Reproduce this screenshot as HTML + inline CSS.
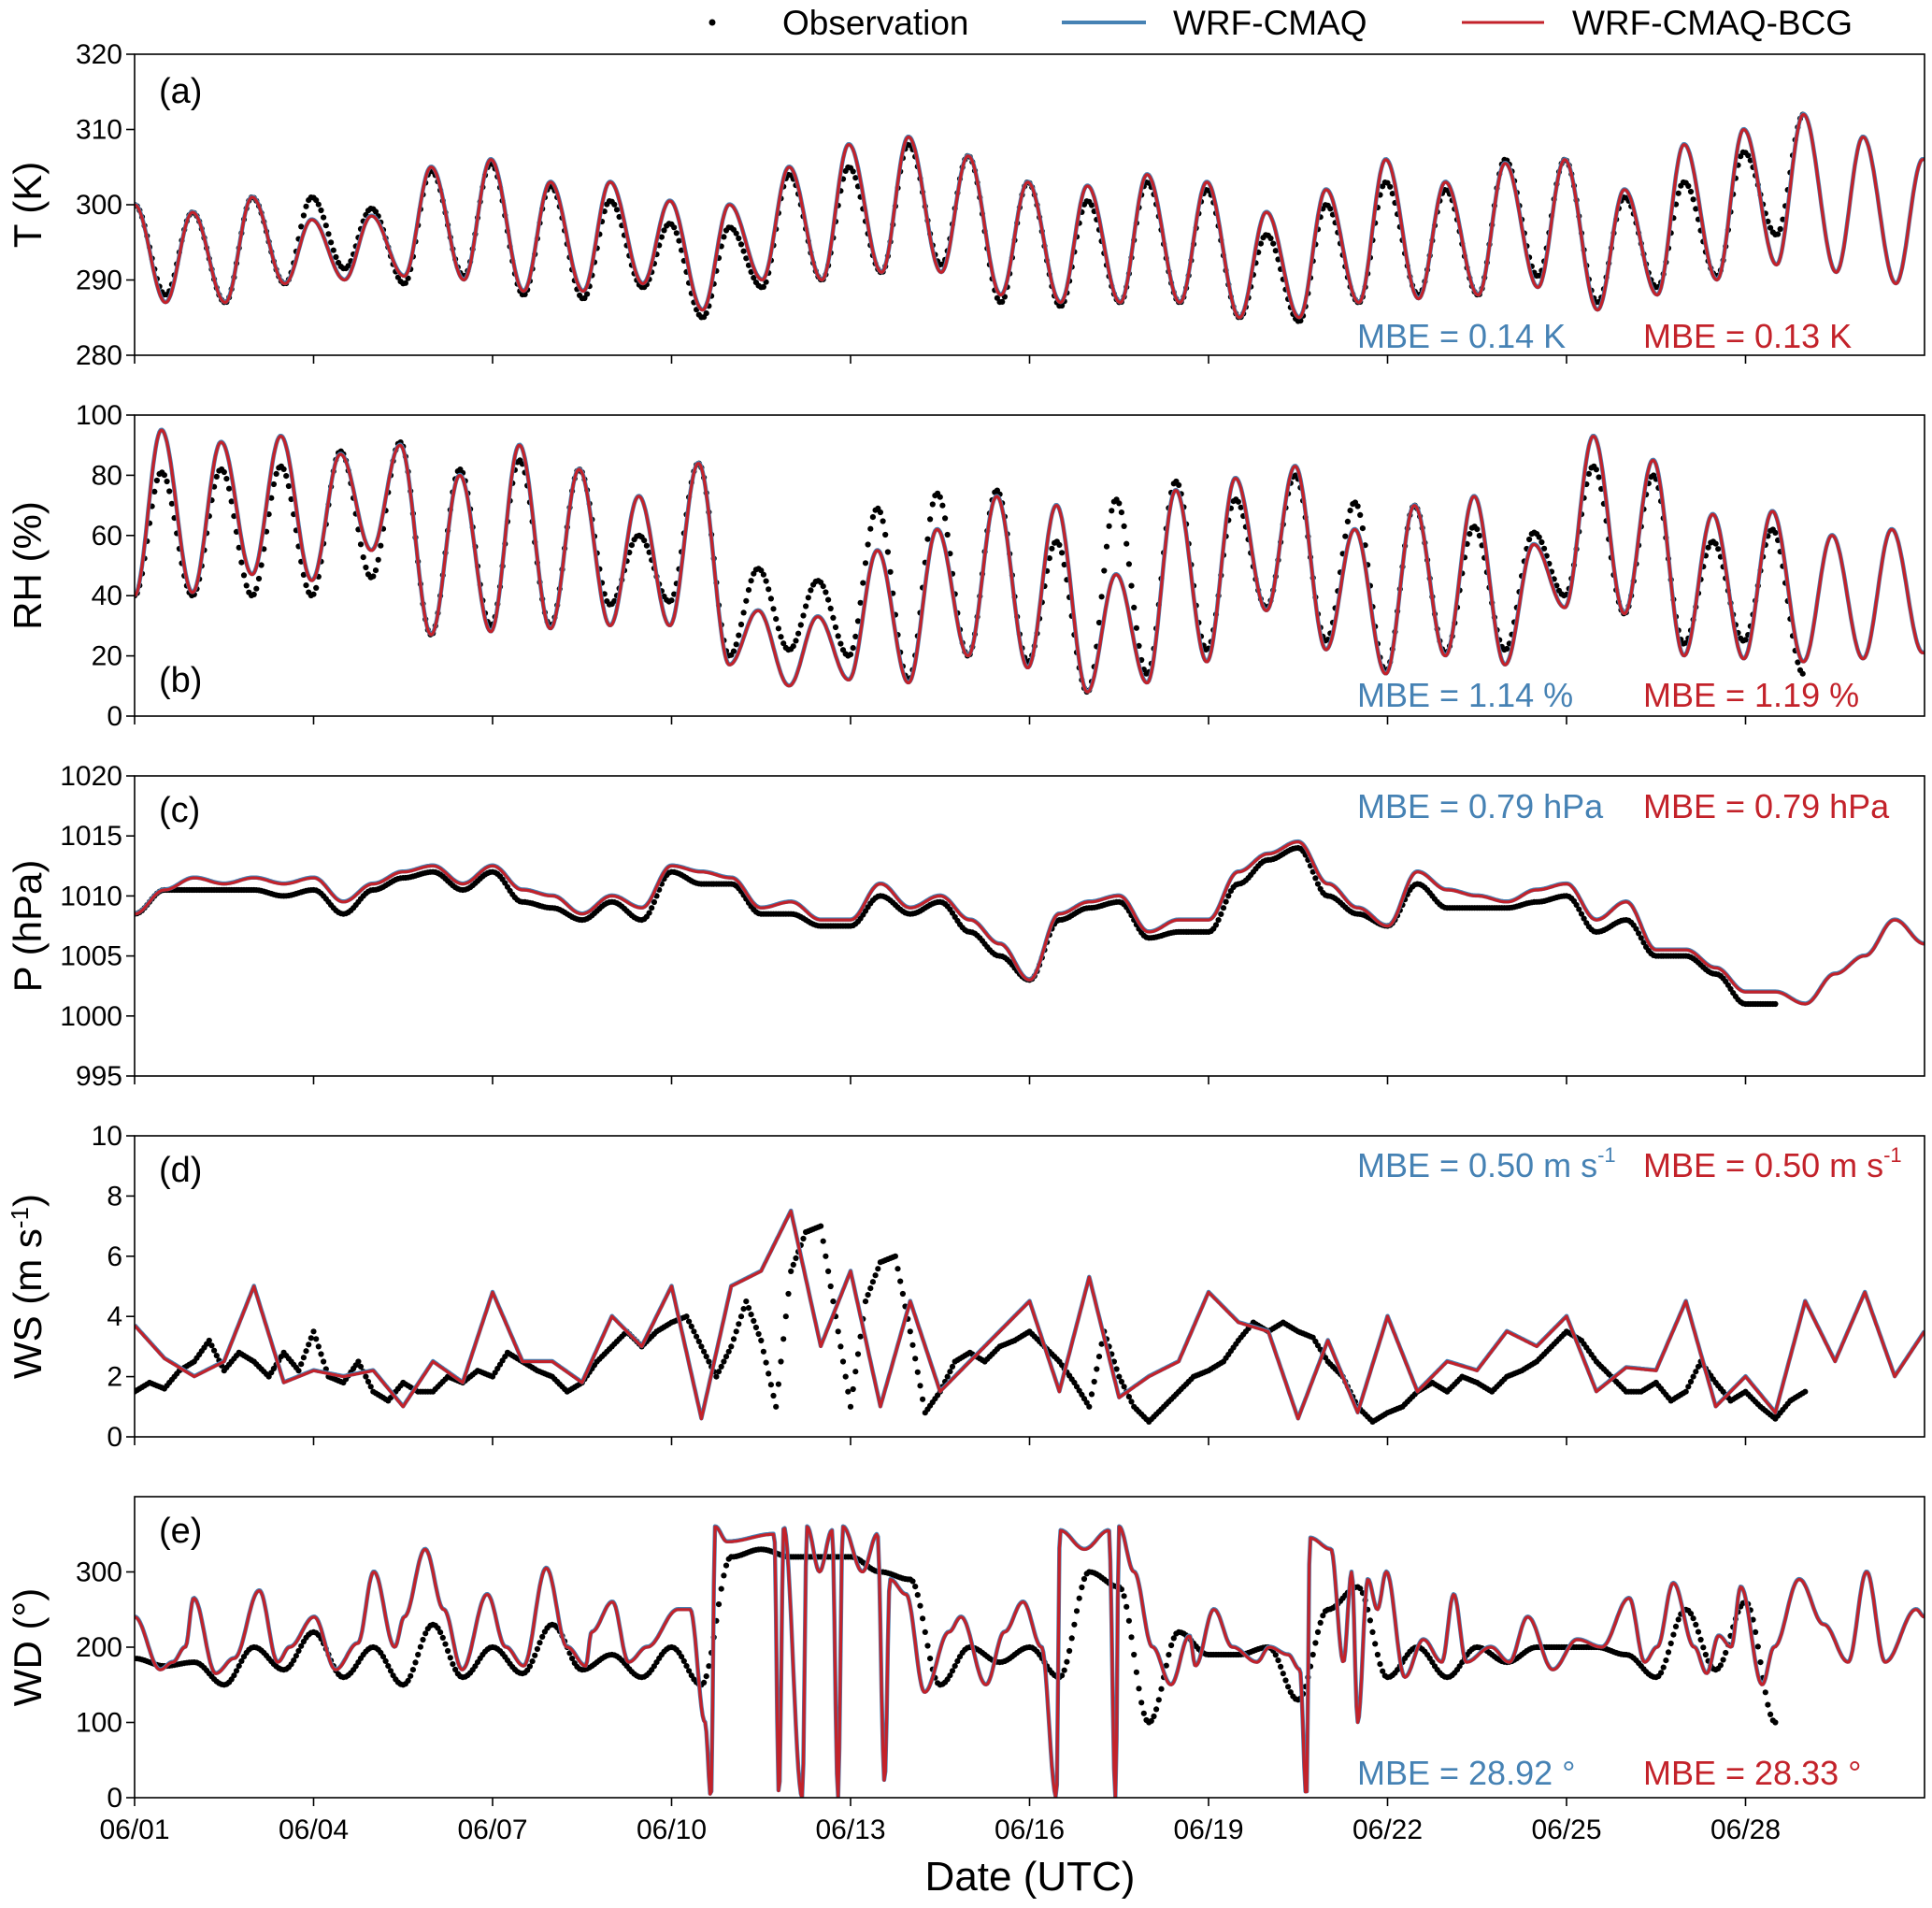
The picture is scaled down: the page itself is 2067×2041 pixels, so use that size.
<!DOCTYPE html>
<html><head><meta charset="utf-8"><title>Meteorology comparison</title>
<style>
html,body{margin:0;padding:0;background:#fff;}
svg{display:block;font-family:"Liberation Sans",Arial,sans-serif;}
</style></head>
<body>
<svg id="chart" xmlns="http://www.w3.org/2000/svg" width="2067" height="2041" viewBox="0 0 2067 2041">
  <g>
    <circle cx="762" cy="24" r="3.5" fill="#000"/>
    <text x="837" y="37" font-size="37">Observation</text>
    <line x1="1136" y1="24" x2="1226" y2="24" stroke="#4682b4" stroke-width="4"/>
    <text x="1255" y="37" font-size="37">WRF-CMAQ</text>
    <line x1="1564" y1="24" x2="1652" y2="24" stroke="#c3222a" stroke-width="3"/>
    <text x="1682" y="37" font-size="37">WRF-CMAQ-BCG</text>
  </g>
  <text x="1102" y="2022" font-size="44" text-anchor="middle">Date (UTC)</text>
</svg>
<script>
// ---------- data ----------
const dateTicks = ["06/01","06/04","06/07","06/10","06/13","06/16","06/19","06/22","06/25","06/28"];
const dateTickDays = [0,3,6,9,12,15,18,21,24,27];

// (a) temperature: daily trough / peak values (K)
const tModelMin = [287,287,289.5,290,290.5,290,288.5,288.5,289.5,286,290,290,291,291,288,287,287,287,285,285,287,287.5,288,289,286,288,290,292,291,289.5];
const tModelMax = [299,301,298,298.5,305,306,303,303,300.5,300,305,308,309,306.5,303,302.5,304,303,299,302,306,303,305.5,306,302,308,310,312,309,306];
const tObsMin = [288,287,289.5,291.5,289.5,290.5,288,287.5,289,285,289,290,291,292,287,286.5,287,287,285,284.5,287,288,288,290.5,287,289,290.5,296,NaN,NaN];
const tObsMax = [299,301,301,299.5,304.5,305.5,302.5,300.5,297.5,297,304,305,308,306.5,303,300.5,303,302,296,300,303,302,306,306,301,303,307,312,NaN,NaN];

// (b) relative humidity: daily peak / trough (%)
const rhModelMax = [95,91,93,87,90,80,90,82,73,84,35,33,55,62,73,70,47,75,79,83,62,70,73,57,93,85,67,68,60,62];
const rhModelMin = [41,47,45,55,27,28,29,30,30,17,10,12,11,20,16,8,11,18,35,22,14,20,17,36,34,20,19,18,19,21];
const rhObsMax = [81,82,83,88,91,82,85,82,60,84,49,45,69,74,75,58,72,78,72,80,71,70,63,61,83,80,58,62,NaN,NaN];
const rhObsMin = [40,40,40,46,27,30,30,37,38,20,22,20,12,20,18,8,14,22,36,25,15,21,22,40,34,24,25,14,NaN,NaN];

// (c) pressure, half-day samples (hPa)
const pModel = [1008.5,1010.5,1011.5,1011,1011.5,1011,1011.5,1009.5,1011,1012,1012.5,1011,1012.5,1010.5,1010,1008.5,1010,1009,1012.5,1012,1011.5,1009,1009.5,1008,1008,1011,1009,1010,1008,1006,1003,1008.5,1009.5,1010,1007,1008,1008,1012,1013.5,1014.5,1011,1009,1007.5,1012,1010.5,1010,1009.5,1010.5,1011,1008,1009.5,1005.5,1005.5,1004,1002,1002,1001,1003.5,1005,1008,1006];
const pObs = [1008.5,1010.5,1010.5,1010.5,1010.5,1010,1010.5,1008.5,1010.5,1011.5,1012,1010.5,1012,1009.5,1009,1008,1009.5,1008,1012,1011,1011,1008.5,1008.5,1007.5,1007.5,1010,1008.5,1009.5,1007,1005,1003,1008,1009,1009.5,1006.5,1007,1007,1011,1013,1014,1010,1008.5,1007.5,1011,1009,1009,1009,1009.5,1010,1007,1008,1005,1005,1003.5,1001,1001,NaN,NaN,NaN,NaN,NaN];

// (d) wind speed: model half-day samples, observations quarter-day samples (m/s)
const wsModel = [3.7,2.6,2.0,2.5,5.0,1.8,2.2,2.0,2.2,1.0,2.5,1.8,4.8,2.5,2.5,1.8,4.0,3.0,5.0,0.6,5.0,5.5,7.5,3.0,5.5,1.0,4.5,1.5,2.5,3.5,4.5,1.5,5.3,1.3,2.0,2.5,4.8,3.8,3.5,0.6,3.2,0.8,4.0,1.5,2.5,2.2,3.5,3.0,4.0,1.5,2.3,2.2,4.5,1.0,2.0,0.8,4.5,2.5,4.8,2.0,3.5];
const wsObsQuarter = [1.5,1.8,1.6,2.2, 2.5,3.2,2.2,2.8, 2.5,2.0,2.8,2.2, 3.5,2.0,1.8,2.5, 1.5,1.2,1.8,1.5,
  1.5,2.0,1.8,2.2, 2.0,2.8,2.5,2.2, 2.0,1.5,1.8,2.5, 3.0,3.5,3.0,3.5, 3.8,4.0,3.0,2.0,
  3.0,4.5,3.2,1.0, 5.5,6.8,7.0,4.0, 1.0,4.5,5.8,6.0, 3.5,0.8,1.5,2.5, 2.8,2.5,3.0,3.2,
  3.5,3.0,2.5,1.8, 1.0,3.5,2.0,1.0, 0.5,1.0,1.5,2.0, 2.2,2.5,3.2,3.8, 3.5,3.8,3.5,3.3,
  2.5,2.0,1.0,0.5, 0.8,1.0,1.5,1.8, 1.5,2.0,1.8,1.5, 2.0,2.2,2.5,3.0, 3.5,3.2,2.5,2.0,
  1.5,1.5,1.8,1.2, 1.5,2.5,1.8,1.2, 1.5,1.0,0.6,1.2, 1.5];

// (e) wind direction: model key times (days) and values (deg)
const wdModelDays = [0,0.43,0.64,0.85,0.99,1.36,1.67,2.09,2.40,2.60,3.01,3.37,3.74,4.01,4.36,4.52,4.87,5.18,5.49,5.91,6.22,6.52,6.90,7.25,7.56,7.66,8.01,8.28,8.59,9.11,9.31,9.56,9.66,9.73,9.93,10.72,10.80,10.88,11.19,11.27,11.48,11.69,11.79,11.87,12.20,12.45,12.57,12.66,12.93,13.24,13.65,13.85,14.27,14.58,14.89,15.20,15.45,15.51,15.92,16.33,16.44,16.50,16.75,17.06,17.37,17.68,17.78,18.09,18.40,18.81,19.02,19.33,19.53,19.64,19.70,20.05,20.26,20.40,20.50,20.67,20.83,20.98,21.29,21.60,21.91,22.11,22.32,22.73,23.04,23.35,23.77,24.18,24.59,25.05,25.31,25.52,25.79,26.14,26.35,26.55,26.76,26.92,27.28,27.48,27.90,28.31,28.72,29.03,29.34,29.86,30];
const wdModelVals = [240,170,180,200,265,165,185,275,180,200,240,170,205,300,200,240,330,250,170,270,200,175,305,200,175,220,260,180,200,250,250,100,0,360,340,350,0,360,0,360,300,355,0,360,300,350,20,290,270,140,220,240,150,220,260,200,0,355,330,355,0,360,300,200,150,215,175,250,200,180,200,190,170,0,345,330,180,300,100,290,250,300,160,210,180,270,180,200,180,240,170,210,200,265,180,200,285,200,165,215,200,280,150,200,290,230,180,300,180,250,240];
const wdObs = [185,175,180,150,200,170,220,160,200,150,230,160,200,165,230,170,190,160,200,150,320,330,320,320,320,300,290,150,200,180,200,160,300,280,100,220,190,190,200,130,250,280,160,200,160,200,180,200,200,200,190,160,250,170,260,100,NaN,NaN,NaN,NaN,NaN];

const mbeBlue = ["MBE = 0.14 K","MBE = 1.14 %","MBE = 0.79 hPa","MBE = 0.50 m s","MBE = 28.92 °"];
const mbeRed = ["MBE = 0.13 K","MBE = 1.19 %","MBE = 0.79 hPa","MBE = 0.50 m s","MBE = 28.33 °"];

// ---------- layout ----------
const NS = "http://www.w3.org/2000/svg";
const svg = document.getElementById("chart");
const X0 = 144, X1 = 2059, NDAYS = 30;
const xs = d => X0 + (X1 - X0) * d / NDAYS;
const panels = [
  {key:"t", top:58, bot:380, min:280, max:320, ticks:[280,290,300,310,320], label:"T (K)", letter:"(a)", letterY:110, mbeY:372},
  {key:"rh", top:444, bot:766, min:0, max:100, ticks:[0,20,40,60,80,100], label:"RH (%)", letter:"(b)", letterY:740, mbeY:756},
  {key:"p", top:830, bot:1151, min:995, max:1020, ticks:[995,1000,1005,1010,1015,1020], label:"P (hPa)", letter:"(c)", letterY:879, mbeY:875},
  {key:"ws", top:1215, bot:1537, min:0, max:10, ticks:[0,2,4,6,8,10], label:"WS (m s", letter:"(d)", letterY:1264, mbeY:1259},
  {key:"wd", top:1601, bot:1923, min:0, max:400, ticks:[0,100,200,300], label:"WD (°)", letter:"(e)", letterY:1650, mbeY:1909}
];

function el(tag, attrs, parent){
  const e = document.createElementNS(NS, tag);
  for (const k in attrs) e.setAttribute(k, attrs[k]);
  (parent || svg).appendChild(e);
  return e;
}

function sampleKeys(times, vals, t){
  if (t <= times[0]) return vals[0];
  for (let i = 0; i < times.length - 1; i++){
    if (t >= times[i] && t <= times[i+1]){
      const a = vals[i], b = vals[i+1];
      if (isNaN(a) || isNaN(b)) return NaN;
      const f = (t - times[i]) / (times[i+1] - times[i]);
      return a + (b - a) * (1 - Math.cos(Math.PI * f)) / 2;
    }
  }
  if (t > times[times.length-1] + 0.01) return NaN;
  return vals[vals.length - 1];
}
function linKeys(times, vals, t){
  if (t <= times[0]) return vals[0];
  for (let i = 0; i < times.length - 1; i++){
    if (t >= times[i] && t <= times[i+1]){
      const a = vals[i], b = vals[i+1];
      if (isNaN(a) || isNaN(b)) return NaN;
      const f = (t - times[i]) / (times[i+1] - times[i]);
      return a + (b - a) * f;
    }
  }
  if (t > times[times.length-1] + 0.01) return NaN;
  return vals[vals.length - 1];
}
function diurnalKeys(start, first, second, off1, off2){
  const t = [0], v = [start];
  for (let k = 0; k < first.length; k++){
    t.push(k + off1); v.push(first[k]);
    t.push(k + off2); v.push(second[k]);
  }
  t.push(30); v.push(second[second.length-1]);
  return {t, v};
}
function halfDay(arr){ return {t: arr.map((_, i) => i * 0.5), v: arr}; }
function quarterDay(arr){ return {t: arr.map((_, i) => i * 0.25), v: arr}; }

const series = {
  t: {model: diurnalKeys(300, tModelMin, tModelMax, 0.52, 0.97), obs: diurnalKeys(300, tObsMin, tObsMax, 0.52, 0.97), interp: sampleKeys},
  rh: {model: diurnalKeys(40, rhModelMax, rhModelMin, 0.45, 0.97), obs: diurnalKeys(40, rhObsMax, rhObsMin, 0.45, 0.97), interp: sampleKeys},
  p: {model: halfDay(pModel), obs: halfDay(pObs), interp: sampleKeys},
  ws: {model: halfDay(wsModel), obs: quarterDay(wsObsQuarter), interp: linKeys},
  wd: {model: {t: wdModelDays, v: wdModelVals}, obs: halfDay(wdObs), interp: sampleKeys, modelInterp: sampleKeys}
};

panels.forEach((P, pi) => {
  const g = el("g", {});
  
  
  const ys = v => P.bot - (P.bot - P.top) * (v - P.min) / (P.max - P.min);
  const clip = el("clipPath", {id: "clip" + pi}, g);
  el("rect", {x: X0, y: P.top, width: X1 - X0, height: P.bot - P.top}, clip);

  const S = series[P.key];
  const mInterp = S.modelInterp || S.interp;
  const og = el("g", {fill: "#000", "clip-path": "url(#clip" + pi + ")"}, g);
  
  
  for (let h = 0; h <= NDAYS * 24; h++){
    const d = h / 24;
    const v = S.interp(S.obs.t, S.obs.v, d);
    if (isNaN(v)) continue;
    const c = el("circle", {cx: xs(d).toFixed(1), cy: ys(v).toFixed(1), r: 3.1}, og);
    
    
  }
  function modelPath(offset){
    const pts = [];
    for (let h = 0; h <= NDAYS * 48; h++){
      const d = h / 48;
      const v = mInterp(S.model.t, S.model.v, d);
      if (isNaN(v)) continue;
      pts.push(xs(d).toFixed(1) + "," + ys(v + offset).toFixed(1));
    }
    return "M" + pts.join("L");
  }
  const blue = el("path", {d: modelPath(0.15 * (P.max - P.min) / 100), fill: "none", stroke: "#4682b4", "stroke-width": 4.5, "stroke-linejoin": "round", "clip-path": "url(#clip" + pi + ")"}, g);
  
  
  const red = el("path", {d: modelPath(0), fill: "none", stroke: "#c3222a", "stroke-width": 3.2, "stroke-linejoin": "round", "clip-path": "url(#clip" + pi + ")"}, g);
  
  

  const fr = el("rect", {x: X0, y: P.top, width: X1 - X0, height: P.bot - P.top, fill: "none", stroke: "#000", "stroke-width": 1.6}, g);
  
  

  P.ticks.forEach(tv => {
    const y = ys(tv);
    const tk = el("line", {x1: X0 - 9, x2: X0, y1: y, y2: y, stroke: "#000", "stroke-width": 1.6}, g);
    
    
    const tl = el("text", {x: X0 - 13, y: y + 10, "font-size": 30, "text-anchor": "end"}, g);
    
    
    tl.textContent = tv;
  });
  dateTickDays.forEach((d, i) => {
    const x = xs(d);
    const tk = el("line", {x1: x, x2: x, y1: P.bot, y2: P.bot + 9, stroke: "#000", "stroke-width": 1.6}, g);
    
    
    if (pi === panels.length - 1){
      const tl = el("text", {x: x, y: P.bot + 44, "font-size": 30, "text-anchor": "middle"}, g);
      
      
      tl.textContent = dateTicks[i];
    }
  });
  const cy = (P.top + P.bot) / 2;
  const yl = el("text", {x: 0, y: 0, "font-size": 42, "text-anchor": "middle", transform: "translate(44," + cy + ") rotate(-90)"}, g);
  
  
  yl.textContent = P.label;
  if (P.key === "ws"){
    const sup = el("tspan", {"font-size": 26, dy: -14}, yl);
    sup.textContent = "-1";
    const rest = el("tspan", {dy: 14}, yl);
    rest.textContent = ")";
  }
  const lt = el("text", {x: 170, y: P.letterY, "font-size": 38}, g);
  
  
  lt.textContent = P.letter;
  const mb = el("text", {x: 1452, y: P.mbeY, "font-size": 36, fill: "#4682b4"}, g);
  
  
  mb.textContent = mbeBlue[pi];
  const mr = el("text", {x: 1758, y: P.mbeY, "font-size": 36, fill: "#c3222a"}, g);
  
  
  mr.textContent = mbeRed[pi];
  if (P.key === "ws"){
    const s1 = el("tspan", {"font-size": 22, dy: -16}, mb);
    s1.textContent = "-1";
    const s2 = el("tspan", {"font-size": 22, dy: -16}, mr);
    s2.textContent = "-1";
  }
});
</script>
</body></html>
